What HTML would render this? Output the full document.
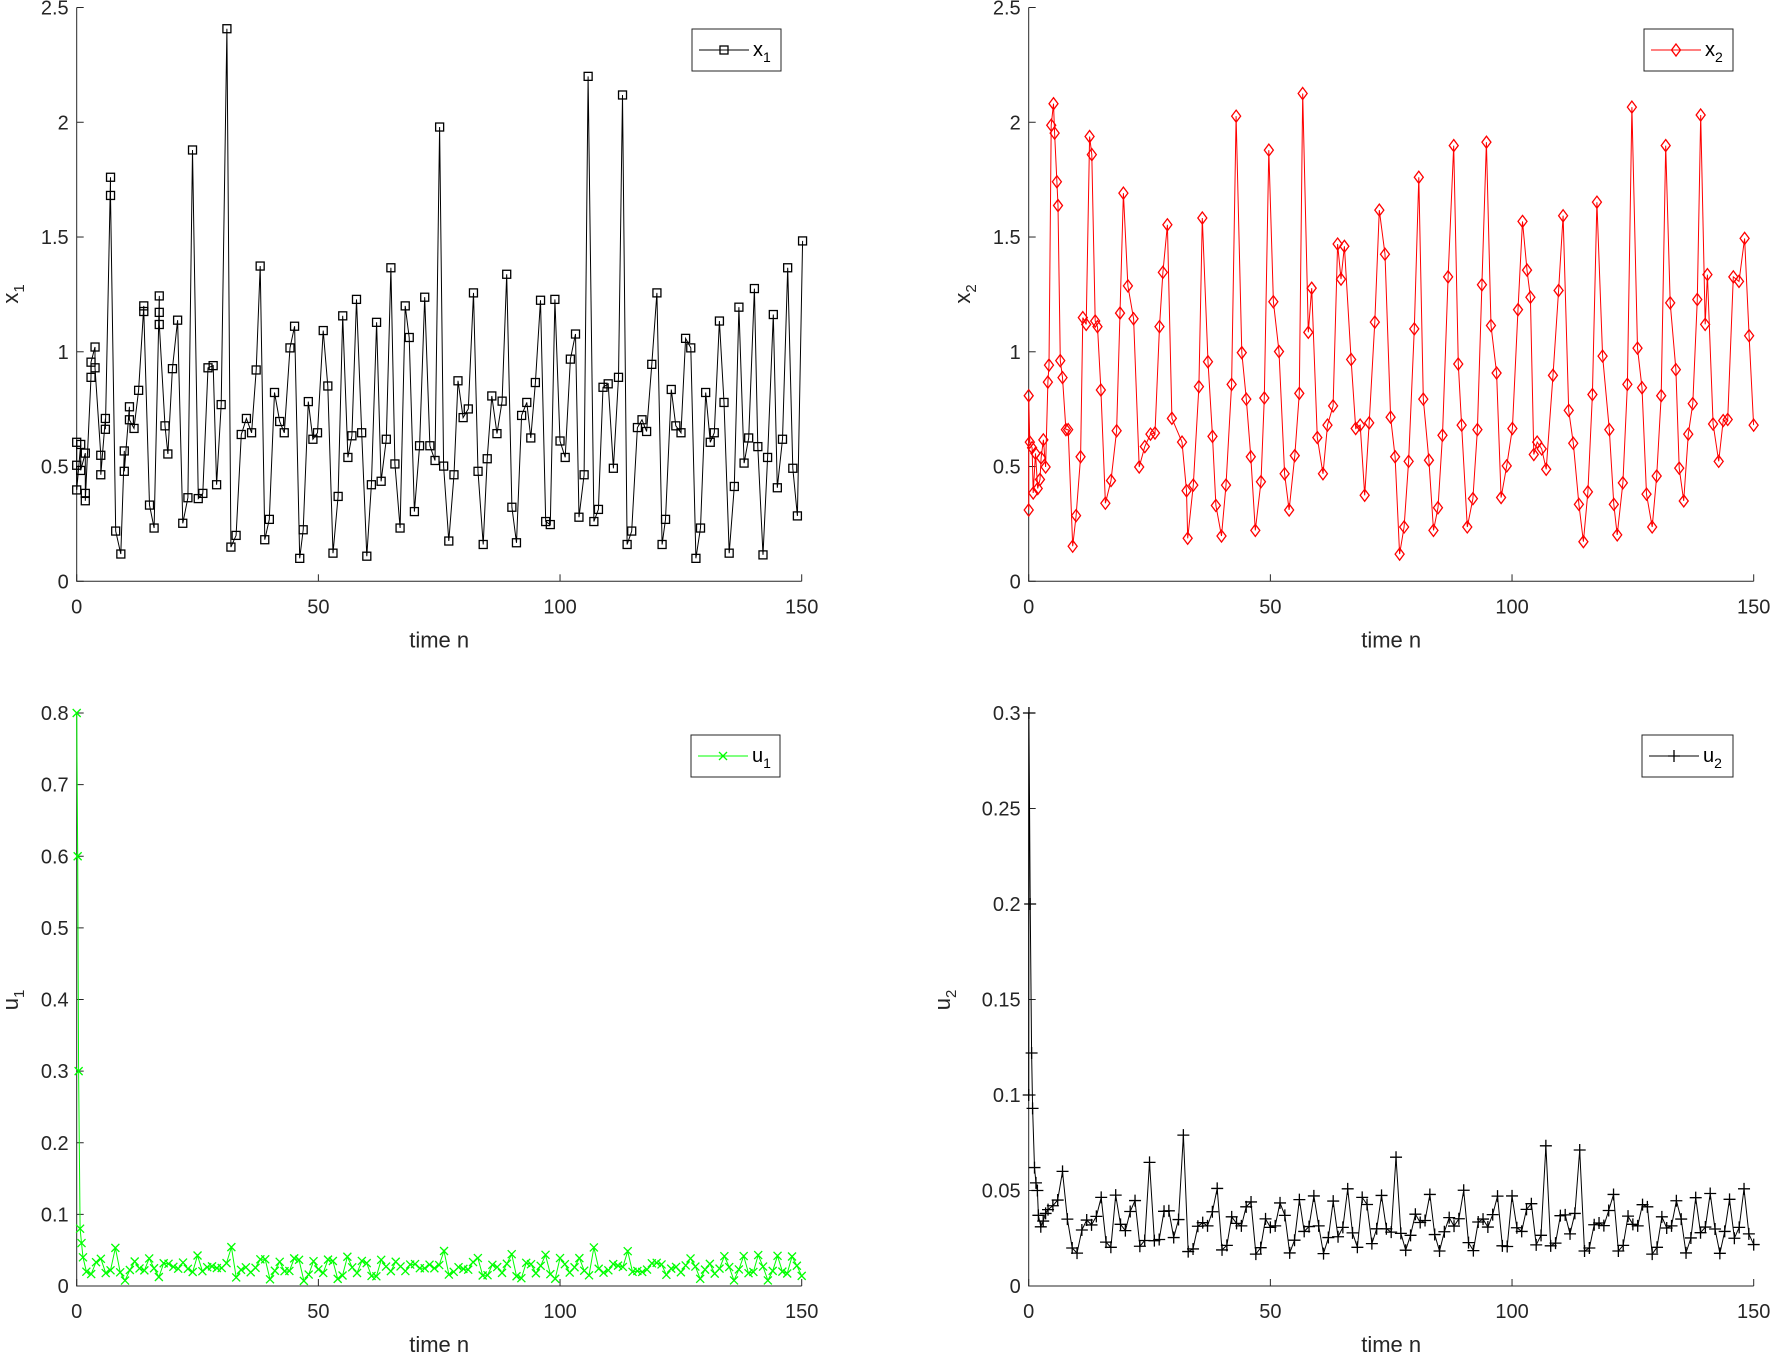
<!DOCTYPE html>
<html><head><meta charset="utf-8"><style>
html,body{margin:0;padding:0;background:#fff;}
svg{display:block;font-family:"Liberation Sans",Arial,sans-serif;}
</style></head><body>
<svg id="s" width="1773" height="1355" xmlns="http://www.w3.org/2000/svg"></svg>
<script>
const S=document.getElementById('s');
let out='';
const x1z=[[133,1020],[133,1073],[133,1130],[140,1025],[140,1085],[148,1045],[148,1138],[148,1155],[158,870],[158,835],[165,800],[165,848],[175,1050],[175,1095],[183,965],[183,990],[192,408],[192,450],[201,1225],[210,1278],[216,1040],[216,1087],[225,938],[225,968],[233,988],[241,900],[250,705],[250,718],[260,1165],[268,1218],[277,682],[277,720],[277,748],[287,982],[292,1047],[300,850],[309,738],[318,1207],[327,1148],[335,345],[345,1150],[353,1138],[362,848],[371,843],[377,1118],[385,933],[395,65],[402,1262],[411,1235],[420,1002],[429,965],[438,998],[446,853],[453,613],[461,1245],[469,1198],[478,905],[487,972],[495,998],[505,802],[513,752],[522,1288],[528,1222],[537,926],[545,1013],[553,998],[563,762],[571,890],[580,1276],[589,1145],[597,728],[606,1055],[613,1005],[621,690],[630,998],[639,1283],[647,1118],[656,743],[664,1110],[673,1013],[681,617],[688,1070],[697,1218],[706,705],[713,778],[722,1180],[731,1028],[740,685],[749,1028],[758,1062],[766,292],[773,1075],[782,1248],[791,1095],[798,878],[807,963],[816,943],[825,675],[833,1087],[842,1256],[849,1058],[857,913],[866,1000],[875,925],[883,632],[892,1170],[900,1252],[909,958],[918,928],[925,1010],[933,882],[942,692],[951,1203],[959,1210],[967,690],[976,1017],[985,1055],[994,828],[1003,770],[1009,1193],[1018,1095],[1025,175],[1035,1203],[1043,1175],[1051,893],[1060,885],[1069,1080],[1078,870],[1085,218],[1093,1256],[1101,1225],[1111,986],[1119,968],[1127,995],[1136,840],[1145,675],[1154,1256],[1160,1198],[1170,898],[1178,982],[1187,998],[1195,780],[1204,802],[1213,1288],[1221,1218],[1230,905],[1238,1020],[1245,998],[1254,740],[1262,928],[1271,1276],[1280,1122],[1288,708],[1297,1068],[1305,1010],[1315,665],[1321,1030],[1330,1280],[1338,1055],[1348,725],[1355,1125],[1364,1013],[1373,617],[1382,1080],[1390,1190],[1399,555]];
const X1=x1z.map(p=>[(p[0]-133)/8.43,(1341-p[1])/530]);
const x2d=[[909,452],[909,351],[910,392],[912,397],[913,437],[915,402],[917,433],[919,425],[920,406],[922,390],[924,414],[926,339],[927,324],[929,112],[931,93],[932,119],[934,162],[935,183],[937,320],[939,335],[942,381],[944,381],[948,484],[951,457],[955,405],[957,282],[960,288],[963,122],[965,138],[968,285],[970,290],[973,346],[977,446],[982,426],[987,382],[990,278],[993,172],[997,254],[1002,283],[1007,414],[1012,396],[1017,385],[1021,384],[1025,290],[1028,242],[1032,200],[1036,371],[1045,392],[1049,435],[1050,477],[1055,430],[1060,343],[1063,194],[1068,321],[1072,387],[1075,448],[1080,475],[1084,430],[1089,341],[1093,104],[1098,313],[1102,354],[1106,405],[1110,470],[1115,427],[1118,353],[1122,134],[1126,268],[1131,312],[1136,420],[1140,452],[1145,404],[1149,349],[1152,84],[1157,295],[1160,256],[1165,388],[1170,420],[1174,377],[1179,360],[1183,217],[1186,248],[1189,219],[1195,319],[1199,380],[1203,377],[1207,439],[1211,375],[1216,286],[1220,187],[1225,226],[1230,370],[1234,405],[1238,491],[1242,467],[1246,409],[1251,292],[1255,158],[1259,354],[1264,408],[1268,470],[1272,450],[1276,386],[1281,246],[1286,130],[1290,323],[1293,377],[1298,467],[1303,442],[1307,381],[1311,253],[1315,127],[1319,289],[1324,331],[1328,441],[1333,413],[1338,380],[1343,275],[1347,197],[1351,240],[1354,264],[1357,403],[1360,392],[1364,398],[1368,416],[1374,333],[1379,258],[1383,192],[1388,364],[1392,393],[1397,447],[1401,480],[1405,436],[1409,350],[1413,180],[1418,316],[1424,381],[1428,447],[1431,474],[1436,428],[1440,341],[1444,96],[1449,309],[1453,344],[1457,438],[1462,467],[1466,422],[1470,351],[1474,130],[1478,269],[1483,328],[1486,415],[1490,444],[1494,385],[1498,358],[1502,266],[1505,103],[1509,288],[1511,244],[1516,376],[1521,409],[1525,373],[1529,372],[1534,246],[1539,250],[1544,212],[1548,298],[1552,377]];
const X2=x2d.map(p=>[(p[0]-909)/4.287,(515-p[1])/202.8]);
function x1at(n){let b=X1[0];for(const p of X1){if(Math.abs(p[0]-n)<Math.abs(b[0]-n))b=p;}return b[1];}
const U1=[[0,0.8],[0.2,0.6],[0.4,0.3],[0.7,0.08],[1,0.06],[1.3,0.04],[2,0.02]];
for(let n=3;n<=150;n++){U1.push([n,Math.max(0.005,0.012+0.02*x1at(n-1)+0.007*Math.sin(n*1.7))]);}
const U2=[];
for(let n=9;n<=150;n++){U2.push([n,0.014+0.027*x1at(n-1)]);}
const U2f=[[0,0.1],[0.05,0.3],[0.3,0.2],[0.6,0.122],[0.8,0.093],[1.2,0.062],[1.5,0.054],[1.8,0.05],[2,0.037],[2.5,0.031],[3,0.034],[3.5,0.038],[4,0.04],[5,0.042],[6,0.045],[7,0.06],[8,0.035]].concat(U2);

function axes(x0,x1,y0,y1,ymax,yt,yfmt){
 const ax=v=>x0+(x1-x0)*v/150, ay=v=>y0-(y0-y1)*v/ymax;
 let s=`<path d="M${x0} ${y1}V${y0}H${x1}" fill="none" stroke="#262626" stroke-width="1"/>`;
 for(const t of [0,50,100,150]){s+=`<line x1="${ax(t)}" y1="${y0}" x2="${ax(t)}" y2="${y0-7}" stroke="#262626"/><text x="${ax(t)}" y="${y0+32}" font-size="20" text-anchor="middle" fill="#262626">${t}</text>`;}
 for(const t of yt){s+=`<line x1="${x0}" y1="${ay(t)}" x2="${x0+7}" y2="${ay(t)}" stroke="#262626"/><text x="${x0-8}" y="${ay(t)+7}" font-size="20" text-anchor="end" fill="#262626">${yfmt(t)}</text>`;}
 s+=`<text x="${(x0+x1)/2}" y="${y0+66}" font-size="22" text-anchor="middle" fill="#262626">time n</text>`;
 return [s,ax,ay];
}
function mk(type,x,y,c){
 if(type==='s')return `<rect x="${x-4}" y="${y-4}" width="8" height="8" fill="none" stroke="${c}" stroke-width="1.3"/>`;
 if(type==='d')return `<path d="M${x} ${y-6}L${x+4.5} ${y}L${x} ${y+6}L${x-4.5} ${y}Z" fill="none" stroke="${c}" stroke-width="1.3"/>`;
 if(type==='x')return `<path d="M${x-4} ${y-4}L${x+4} ${y+4}M${x-4} ${y+4}L${x+4} ${y-4}" stroke="${c}" stroke-width="1.3"/>`;
 return `<path d="M${x-6} ${y}H${x+6}M${x} ${y-6}V${y+6}" stroke="${c}" stroke-width="1.3"/>`;
}
function series(data,ax,ay,c,type){
 let d=data.map((p,i)=>(i?'L':'M')+ax(p[0]).toFixed(1)+' '+ay(p[1]).toFixed(1)).join('');
 let s=`<path d="${d}" fill="none" stroke="${c}" stroke-width="1"/>`;
 for(const p of data)s+=mk(type,ax(p[0]),ay(p[1]),c);
 return s;
}
function legend(x,y,w,h,c,type,name,sub){
 let s=`<rect x="${x}" y="${y}" width="${w}" height="${h}" fill="#fff" stroke="#262626" stroke-width="1"/>`;
 s+=`<line x1="${x+7}" y1="${y+h/2}" x2="${x+57}" y2="${y+h/2}" stroke="${c}"/>`+mk(type,x+32,y+h/2,c);
 s+=`<text x="${x+61}" y="${y+h/2+6}" font-size="20" fill="#000">${name}<tspan font-size="14" dy="6">${sub}</tspan></text>`;
 return s;
}
function ylabel(x,y,name,sub){return `<text transform="translate(${x},${y}) rotate(-90)" font-size="22" text-anchor="middle" fill="#262626">${name}<tspan font-size="15" dy="6">${sub}</tspan></text>`;}
const f1=t=>String(t), f2=t=>String(+t.toFixed(2));
let r=axes(76.7,801.7,581.3,7.5,2.5,[0,0.5,1,1.5,2,2.5],f1);
out+=r[0]+series(X1,r[1],r[2],'#000','s')+legend(692,29,89,42,'#000','s','x','1')+ylabel(18,294,'x','1');
r=axes(1028.7,1753.7,581.3,7.5,2.5,[0,0.5,1,1.5,2,2.5],f1);
out+=r[0]+series(X2,r[1],r[2],'#f00','d')+legend(1644,29,89,42,'#f00','d','x','2')+ylabel(970,294,'x','2');
r=axes(76.7,801.7,1286,713,0.8,[0,0.1,0.2,0.3,0.4,0.5,0.6,0.7,0.8],f2);
out+=r[0]+series(U1,r[1],r[2],'#0f0','x')+legend(691,735,89,42,'#0f0','x','u','1')+ylabel(18,1000,'u','1');
r=axes(1028.7,1753.7,1286,713,0.3,[0,0.05,0.1,0.15,0.2,0.25,0.3],f2);
out+=r[0]+series(U2f,r[1],r[2],'#000','+')+legend(1642,735,91,42,'#000','+','u','2')+ylabel(950,1000,'u','2');
S.innerHTML=out;
</script>
</body></html>
